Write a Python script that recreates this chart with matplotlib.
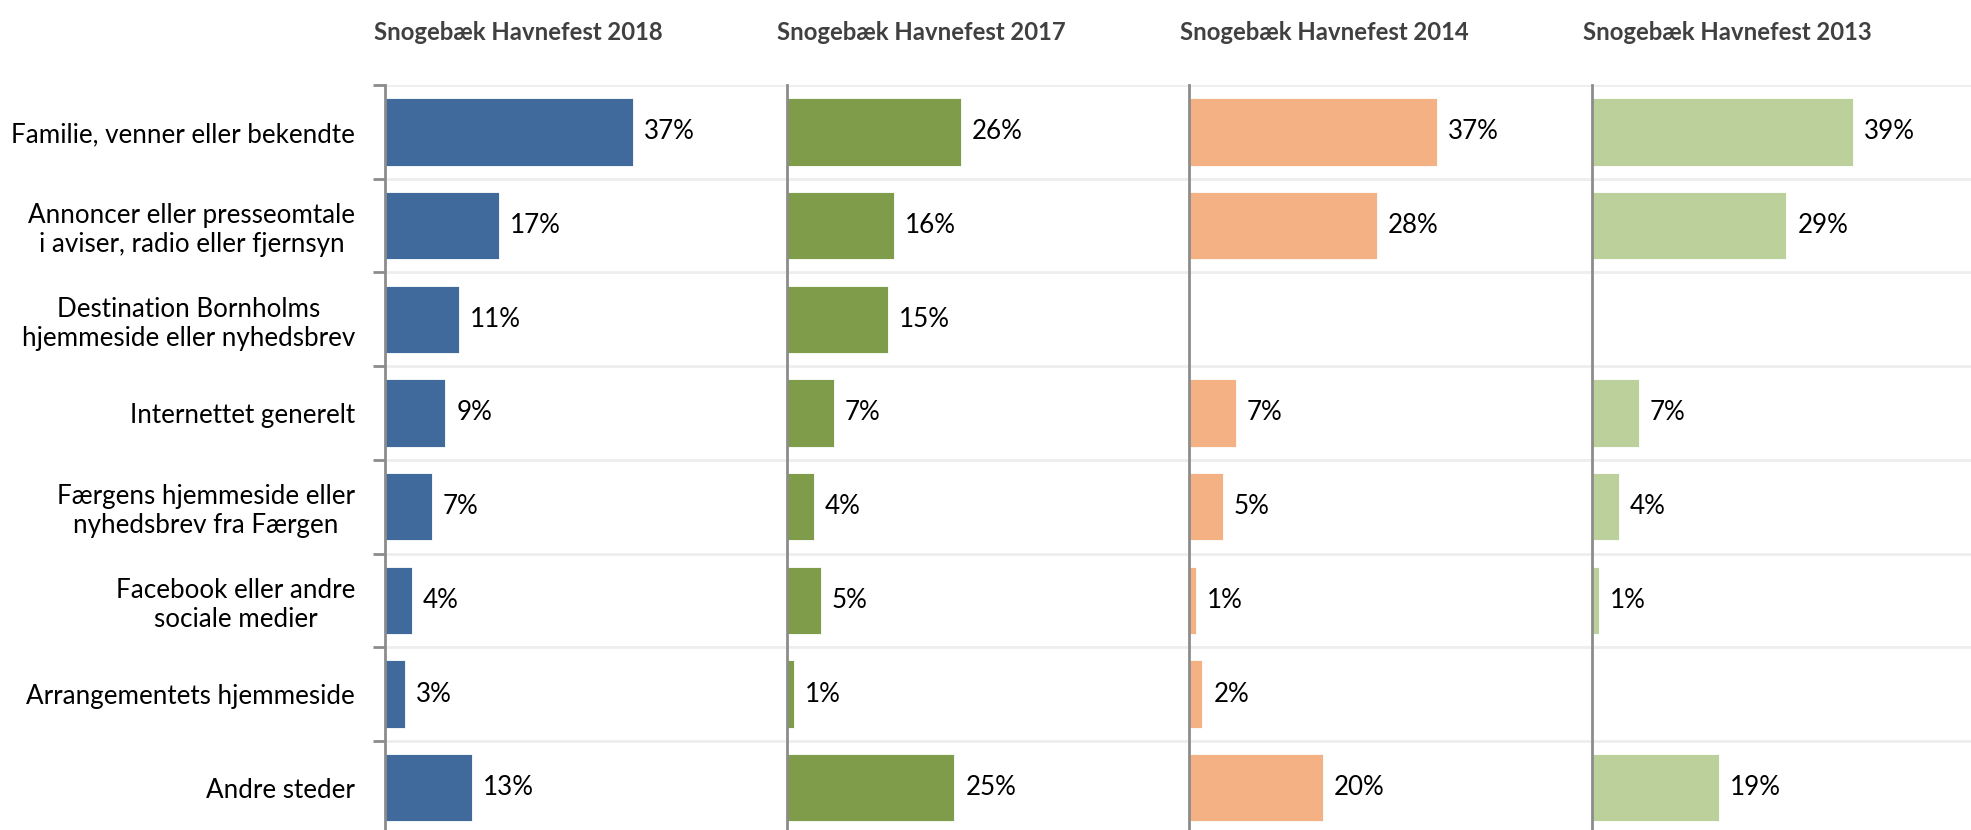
import matplotlib
matplotlib.use("Agg")
import matplotlib.pyplot as plt
import numpy as np

plt.rcParams['font.family'] = ['Lato', 'DejaVu Sans']

categories = [
    "Familie, venner eller bekendte",
    "Annoncer eller presseomtale\ni aviser, radio eller fjernsyn",
    "Destination Bornholms\nhjemmeside eller nyhedsbrev",
    "Internettet generelt",
    "Færgens hjemmeside eller\nnyhedsbrev fra Færgen",
    "Facebook eller andre\nsociale medier",
    "Arrangementets hjemmeside",
    "Andre steder",
]

titles = [
    "Snogebæk Havnefest 2018",
    "Snogebæk Havnefest 2017",
    "Snogebæk Havnefest 2014",
    "Snogebæk Havnefest 2013",
]

values_2018 = [37, 17, 11, 9, 7, 4, 3, 13]
values_2017 = [26, 16, 15, 7, 4, 5, 1, 25]
values_2014 = [37, 28, None, 7, 5, 1, 2, 20]
values_2013 = [39, 29, None, 7, 4, 1, None, 19]

series = [values_2018, values_2017, values_2014, values_2013]
colors = ["#406A9B", "#7F9C4A", "#F4B183", "#BBD09A"]

W, H = 1971, 830
fig = plt.figure(figsize=(W / 100, H / 100), dpi=100)

axis_left = [385, 787, 1189, 1592]
panel_w = 402
px_per_pct = 6.7
top_px = 85
cat_h = 93.7
bottom_px = top_px + cat_h * len(categories)
title_x = [518, 921, 1324, 1727]

n = len(categories)
y = np.arange(n)

for i, (vals, col) in enumerate(zip(series, colors)):
    ax = fig.add_axes([axis_left[i] / W, 1 - bottom_px / H,
                       panel_w / W, (bottom_px - top_px) / H])
    ax.set_xlim(0, panel_w / px_per_pct)
    ax.set_ylim(n - 0.5, -0.5)
    for spine in ["top", "right", "bottom"]:
        ax.spines[spine].set_visible(False)
    ax.spines["left"].set_color("#8C8C8C")
    ax.spines["left"].set_linewidth(2)
    ax.spines["left"].set_zorder(4)
    ax.set_xticks([])
    # category separators
    seps = np.arange(-0.5, n + 0.5, 1.0)
    for s in seps:
        ax.axhline(s, color="#EEEEEE", lw=2, zorder=0)
    if i == 0:
        ax.set_yticks(seps, minor=True)
        ax.tick_params(axis="y", which="minor", length=9, width=2,
                       color="#8C8C8C", direction="out")
        ax.set_yticks(y)
        ax.set_yticklabels(categories, fontsize=18.7, color="#000000",
                           multialignment="center")
        ax.tick_params(axis="y", which="major", length=0, pad=21.5)
    else:
        ax.set_yticks([])
    for yi, v in zip(y, vals):
        if v is None:
            continue
        ax.barh(yi, v, height=0.72, color=col, edgecolor="#FFFFFF",
                linewidth=0.6, zorder=2)
        ax.text(v + 11 / px_per_pct, yi, f"{v}%", va="center", ha="left",
                fontsize=18.7, color="#000000")
    fig.text(title_x[i] / W, 1 - 32 / H, titles[i], ha="center", va="center",
             fontsize=17.2, fontweight="bold", color="#404040")

fig.savefig("out.png", dpi=100, facecolor="white")
